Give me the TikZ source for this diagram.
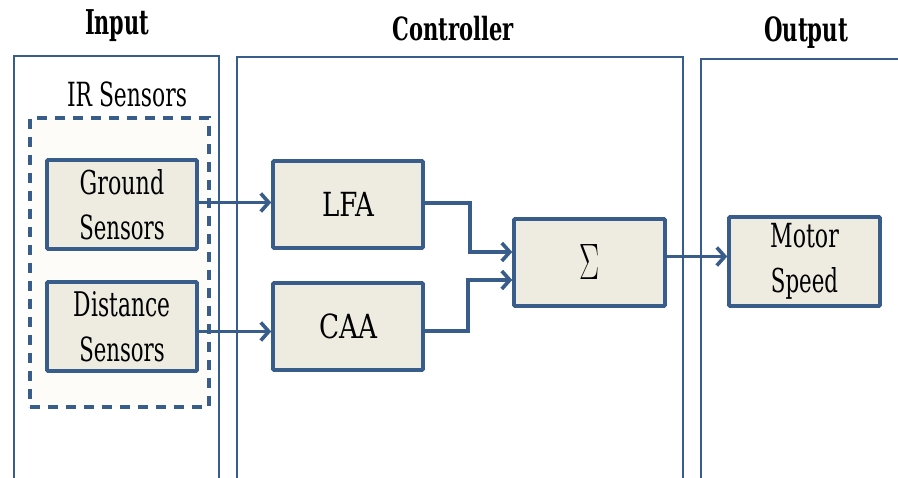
\documentclass[tikz,border=0pt]{standalone}
\usepackage{fontspec}
\setmainfont{DejaVu Serif}
\usepackage{graphicx}
\usetikzlibrary{arrows.meta}
\definecolor{ln}{HTML}{385D8A}
\definecolor{bx}{HTML}{EEECE1}
\definecolor{irfill}{HTML}{FDFCF9}
\newcommand{\fitw}[3]{\resizebox{#1pt}{#2pt}{#3}}
\begin{document}
\begin{tikzpicture}[x=1pt,y=-1pt,
  panel/.style={draw=ln,line width=2.8pt},
  blk/.style={draw=ln,fill=bx,line width=3.6pt,rounded corners=1pt,inner sep=0pt,align=center,font=\fontsize{24}{45}\selectfont},
  conn/.style={draw=ln,line width=3.4pt,-{Straight Barb[length=8pt,width=18pt,line width=3.6pt]}},
  ttl/.style={font=\bfseries\fontsize{24}{30}\selectfont,anchor=base,inner sep=0pt},
  lbl/.style={font=\fontsize{24}{30}\selectfont,anchor=base,inner sep=0pt}]
\useasboundingbox (0,0) rectangle (898,478);
\clip (0,0) rectangle (898,478);
\fill[white] (0,0) rectangle (898,478);
% panels
\draw[panel] (14,490) -- (14,56) -- (219,56) -- (219,490);
\draw[panel] (237,490) -- (237,57) -- (683,57) -- (683,490);
\draw[panel] (701,490) -- (701,59) -- (910,59);
% titles
\node[ttl] (tin) at (117,35) {\fitw{64}{24.9}{Input}};
\node[ttl] (tct) at (453,41) {\fitw{121.5}{24.3}{Controller}};
\node[ttl] (tout) at (806,42) {\fitw{84}{24.8}{Output}};
\node[lbl] (irl) at (127,107) {\fitw{120}{24.7}{IR Sensors}};
% IR dashed group
\node[draw=ln,fill=irfill,line width=3.6pt,dash pattern=on 10pt off 8pt,minimum width=179pt,minimum height=289pt,inner sep=0pt] (ir) at (119.5,262.5) {};
% blocks
\node[blk,minimum width=150pt,minimum height=89pt] (gs) at (122,204.5) {\fitw{84.5}{25}{Ground}\\\fitw{85.5}{24.7}{Sensors}};
\node[blk,minimum width=150pt,minimum height=89pt] (ds) at (122,326.5) {\fitw{96.5}{25}{Distance}\\\fitw{85.5}{24.7}{Sensors}};
\node[blk,minimum width=150pt,minimum height=87pt] (lfa) at (348,204.5) {\fitw{52}{24.2}{LFA}};
\node[blk,minimum width=150pt,minimum height=87pt] (caa) at (348,326.5) {\fitw{58}{24.7}{CAA}};
\node[blk,minimum width=151pt,minimum height=87pt] (sum) at (589.5,262.5) {\raisebox{-5pt}{\resizebox*{20pt}{35pt}{$\Sigma$}}};
\node[blk,minimum width=151pt,minimum height=89pt] (ms) at (804.5,261.5) {\fitw{68.7}{24.2}{Motor}\\\fitw{67.2}{25}{Speed}};
% connectors
\coordinate (a1) at ([yshift=2pt]gs.east);
\draw[conn] (a1) -- (a1 -| lfa.west);
\coordinate (a2) at ([yshift=-5pt]ds.east);
\draw[conn] (a2) -- (a2 -| caa.west);
\draw[conn] ([yshift=1.5pt]lfa.east) -- ++(45,0) |- ([yshift=10.5pt]sum.west);
\draw[conn] ([yshift=-4.5pt]caa.east) -- ++(43,0) |- ([yshift=-17.5pt]sum.west);
\coordinate (a3) at ([yshift=6pt]sum.east);
\draw[conn] (a3) -- (a3 -| ms.west);
\end{tikzpicture}
\end{document}
